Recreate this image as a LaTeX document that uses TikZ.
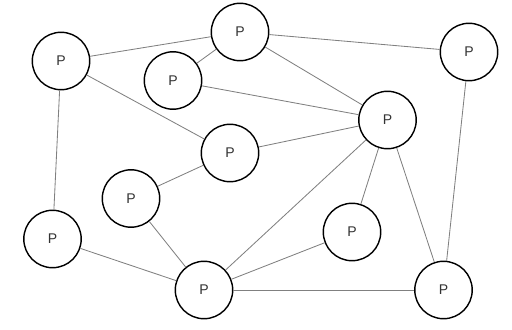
\documentclass[tikz,border=0pt]{standalone}
\usepackage{fontspec}
\setmainfont{Liberation Sans}

\begin{document}
\begin{tikzpicture}[
    x=0.025cm, y=-0.025cm,
    peer/.style={circle, draw, line width=1pt, fill=white, minimum size=1.435cm, inner sep=0pt, font=\fontsize{10}{12}\selectfont, text=black!80},
    link/.style={draw=black!50, line width=0.6pt},
]
    \useasboundingbox (0,0) rectangle (512,329);

    % Peers
    \node[peer] (p1)  at (61,61)    {P};
    \node[peer] (p2)  at (240,32)   {P};
    \node[peer] (p3)  at (173,80.5) {P};
    \node[peer] (p4)  at (469,52)   {P};
    \node[peer] (p5)  at (387.5,120) {P};
    \node[peer] (p6)  at (230,153)  {P};
    \node[peer] (p7)  at (131,198.5) {P};
    \node[peer] (p8)  at (52.5,239) {P};
    \node[peer] (p9)  at (352,232)  {P};
    \node[peer] (p10) at (204,290)  {P};
    \node[peer] (p11) at (443.5,290) {P};

    % Links between peers
    \foreach \a/\b in {p1/p2, p1/p6, p1/p8, p2/p3, p2/p4, p2/p5, p3/p5, p6/p5,
                       p6/p7, p7/p10, p8/p10, p10/p5, p10/p9, p10/p11, p9/p5,
                       p5/p11, p4/p11}
        \draw[link] (\a) -- (\b);
\end{tikzpicture}
\end{document}
